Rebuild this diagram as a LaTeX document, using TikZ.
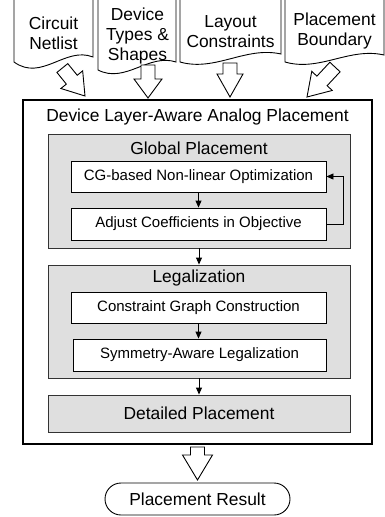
\documentclass[tikz,border=0pt]{standalone}
\usepackage{fontspec}
\setmainfont{Liberation Sans}
\usetikzlibrary{arrows.meta}
\begin{document}
\begin{tikzpicture}[x=1pt,y=-1pt,
  bigfont/.style={font=\fontsize{17.4}{20}\selectfont},
  smallfont/.style={font=\fontsize{15}{18}\selectfont},
  stage/.style={draw=black!80, line width=0.9pt, fill=gray!25, inner sep=0pt},
  stepbox/.style={draw=black, line width=0.9pt, fill=white, inner sep=0pt, smallfont},
  doc/.style={draw=black, line width=0.9pt, fill=white},
  fat/.style={draw=black, line width=0.9pt, fill=white, line join=miter},
  arr/.style={-{Triangle[length=7pt,width=6pt]}, line width=0.9pt},
  lbl/.style={bigfont, inner sep=0pt, align=center}
]
\useasboundingbox (0,0) rectangle (385,517);

% input documents (open at the top, wavy bottom edge)
\newcommand{\docshape}[6]{% left, right, y-left, y-right, dip, rise
  \path[doc] (#1,-3) -- (#1,#3)
    .. controls ({#1+0.35*(#2-#1)},{#3+#5}) and ({#1+0.65*(#2-#1)},{#4-#6}) .. (#2,#4)
    -- (#2,-3);}
\docshape{14}{93}{62}{57}{20}{11}
\docshape{98}{176}{70}{62}{14}{9}
\docshape{180}{281}{62}{54}{10}{8}
\docshape{285}{384}{62}{55}{10}{8}

% hollow block arrows: tip, rotation, length, head length, head half-width
\newcommand{\blockarrow}[5]{%
  \begin{scope}[shift={#1}, rotate=#2]
    \path[fat] (0,0) -- (#5,-#4) -- (7,-#4) -- (7,-#3) -- (-7,-#3)
      -- (-7,-#4) -- (-#5,-#4) -- cycle;
  \end{scope}}
\blockarrow{(85,96)}{39}{36}{21}{14}
\blockarrow{(148,98)}{0}{33}{19}{14}
\blockarrow{(230,97)}{0}{34}{23}{13}
\blockarrow{(307,97)}{-43}{41}{22}{14}
\blockarrow{(197.5,480)}{0}{33}{25}{15}

% document labels
\node[lbl] (netlist) at (53.5,33) {Circuit\\Netlist};
\node[lbl] (types) at (137.5,35.5) {Device\\Types \&\\Shapes};
\node[lbl] (constr) at (230.5,31.5) {Layout\\Constraints};
\node[lbl] (bound) at (334.5,31) {Placement\\Boundary};

% main placement frame
\node[draw=black, line width=2.2pt, minimum width=349pt, minimum height=344pt, inner sep=0pt]
  (main) at (197.5,272) {};
\node[lbl] (maintitle) at (197.5,117) {Device Layer-Aware Analog Placement};

% global placement stage
\node[stage, minimum width=302pt, minimum height=114pt] (gp) at (199,191) {};
\node[lbl] (gptitle) at (199,148) {Global Placement};
\node[stepbox, minimum width=255pt, minimum height=31pt] (cg) at (198.5,176.5) {CG-based Non-linear Optimization};
\node[stepbox, minimum width=255pt, minimum height=32pt] (adj) at (198.5,224) {Adjust Coefficients in Objective};

% legalization stage
\node[stage, minimum width=302pt, minimum height=113pt] (lg) at (199,321.5) {};
\node[lbl] (lgtitle) at (199,278) {Legalization};
\node[stepbox, minimum width=255pt, minimum height=31pt] (cgc) at (198.5,307.5) {Constraint Graph Construction};
\node[stepbox, minimum width=253pt, minimum height=32pt] (sym) at (199.5,355) {Symmetry-Aware Legalization};

% detailed placement stage
\node[stage, minimum width=302pt, minimum height=37pt, bigfont] (dp) at (199,413.5) {Detailed Placement};

% result terminator
\node[draw=black, line width=0.9pt, rounded corners=16pt, minimum width=185pt, minimum height=32pt,
  inner sep=0pt, bigfont] (res) at (197.5,499) {Placement Result};

% flow arrows
\draw[arr] (cg.south) -- (adj.north);
\draw[arr] (adj.east) -- ++(17,0) |- (cg.east);
\draw[arr] (gp.south) -- (lg.north);
\draw[arr] (cgc.south) -- (cgc.south |- sym.north);
\draw[arr] (lg.south) -- (dp.north);
\end{tikzpicture}
\end{document}
